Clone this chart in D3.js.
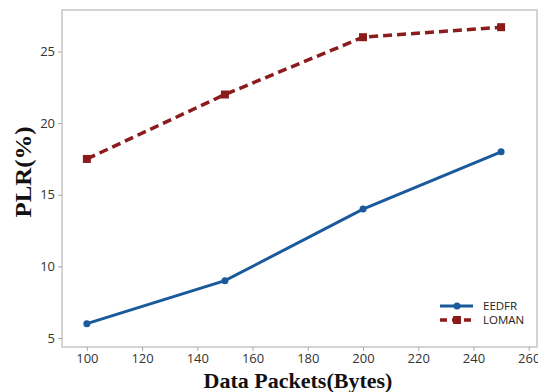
<!DOCTYPE html>
<html>
<head>
<meta charset="utf-8">
<script src="https://cdn.jsdelivr.net/npm/d3@7"></script>
<style>
body{margin:0;background:#fff;}
</style>
</head>
<body>
<script>
var width=538, height=392;
var packets=[100,150,200,250];
var eedfr=[6,9,14,18];
var loman=[17.5,22,26,26.7];
var xTicks=[100,120,140,160,180,200,220,240,260];
var yTicks=[5,10,15,20,25];

var plotLeft=62, plotTop=10, plotRight=537, plotBottom=347;

var svg=d3.select("body").append("svg")
    .attr("width",width)
    .attr("height",height);

var x=d3.scaleLinear().domain([91,263]).range([plotLeft,plotRight]);
var y=d3.scaleLinear().domain([4.37,27.9]).range([plotBottom,plotTop]);

// frame
svg.append("rect")
    .attr("x",plotLeft).attr("y",plotTop)
    .attr("width",plotRight-plotLeft).attr("height",plotBottom-plotTop)
    .attr("fill","none").attr("stroke","#c6c6c6").attr("stroke-width",1.5);

var xAxis=d3.axisBottom(x).tickValues(xTicks).tickSize(4).tickSizeOuter(0);
var gx=svg.append("g").attr("transform","translate(0,"+plotBottom+")").call(xAxis);
gx.select(".domain").remove();
gx.selectAll("line").attr("stroke","#aaa");
gx.selectAll("text").attr("y",7)
    .style("font-family","'Open Sans', sans-serif").style("font-size","13px").attr("fill","#333");

var yAxis=d3.axisLeft(y).tickValues(yTicks).tickSize(4).tickSizeOuter(0);
var gy=svg.append("g").attr("transform","translate("+plotLeft+",0)").call(yAxis);
gy.select(".domain").remove();
gy.selectAll("line").attr("stroke","#aaa");
gy.selectAll("text").attr("x",-7)
    .style("font-family","'Open Sans', sans-serif").style("font-size","13px").attr("fill","#333");

var line=d3.line()
    .x(function(d){return x(d[0]);})
    .y(function(d){return y(d[1]);});

var blue="#1a5a9c", red="#8c1b1b";

svg.append("path")
    .datum(d3.zip(packets,eedfr))
    .attr("d",line)
    .attr("fill","none").attr("stroke",blue).attr("stroke-width",3);
svg.selectAll(".pe")
    .data(d3.zip(packets,eedfr))
    .enter().append("circle")
    .attr("cx",function(d){return x(d[0]);})
    .attr("cy",function(d){return y(d[1]);})
    .attr("r",3.5).attr("fill",blue);

svg.append("path")
    .datum(d3.zip(packets,loman))
    .attr("d",line)
    .attr("fill","none").attr("stroke",red).attr("stroke-width",3.5)
    .attr("stroke-dasharray","9,5");
svg.selectAll(".pl")
    .data(d3.zip(packets,loman))
    .enter().append("rect")
    .attr("x",function(d){return x(d[0])-4;})
    .attr("y",function(d){return y(d[1])-4;})
    .attr("width",8).attr("height",8).attr("fill",red);

// legend
var lg=svg.append("g").attr("transform","translate(440,306)");
lg.append("line").attr("x1",0).attr("x2",33).attr("y1",0).attr("y2",0)
    .attr("stroke",blue).attr("stroke-width",3);
lg.append("circle").attr("cx",17).attr("cy",0).attr("r",3.5).attr("fill",blue);
lg.append("text").attr("x",43).attr("y",4).text("EEDFR")
    .style("font-family","'Open Sans', sans-serif").style("font-size","11.5px").attr("fill","#222");
lg.append("line").attr("x1",0).attr("x2",33).attr("y1",14).attr("y2",14)
    .attr("stroke",red).attr("stroke-width",3.5).attr("stroke-dasharray","7,5");
lg.append("rect").attr("x",13).attr("y",10).attr("width",8).attr("height",8).attr("fill",red);
lg.append("text").attr("x",43).attr("y",18).text("LOMAN")
    .style("font-family","'Open Sans', sans-serif").style("font-size","11.5px").attr("fill","#222");

// axis titles
svg.append("text")
    .attr("x",298).attr("y",388)
    .attr("text-anchor","middle")
    .style("font-family","'Liberation Serif', serif").style("font-weight","bold").style("font-size","22px")
    .attr("fill","#111")
    .text("Data Packets(Bytes)");
svg.append("text")
    .attr("transform","translate(31,172) rotate(-90)")
    .attr("text-anchor","middle")
    .attr("textLength",91).attr("lengthAdjust","spacingAndGlyphs")
    .style("font-family","'Liberation Serif', serif").style("font-weight","bold").style("font-size","23px")
    .attr("fill","#111")
    .text("PLR(%)");
</script>
</body>
</html>
